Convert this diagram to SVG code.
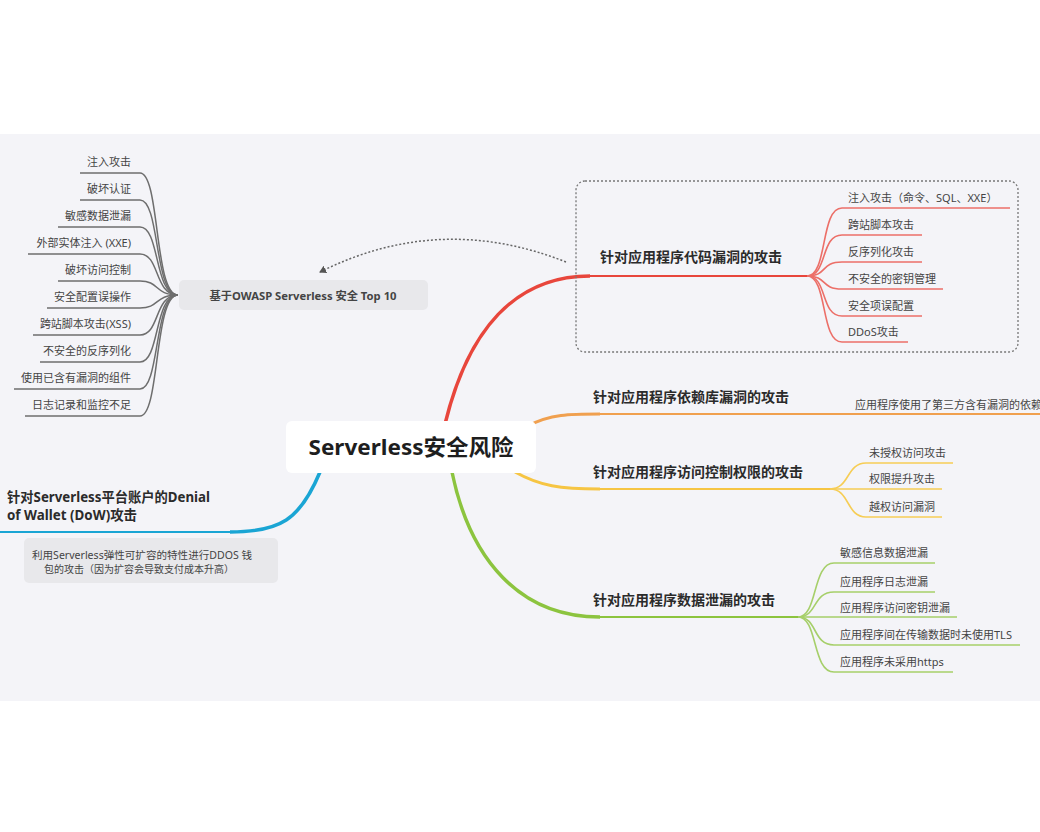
<svg xmlns="http://www.w3.org/2000/svg" width="1040" height="832" viewBox="0 0 1040 832">
<defs>
<style>
.t{font-family:"Noto Sans","Noto Sans CJK SC",sans-serif;}
.main{font-size:22px;font-weight:700;fill:#1e1e1e;}
.br{font-size:14px;font-weight:700;fill:#2b2b2b;}
.lf{font-size:11px;fill:#444;}
.nt{font-size:10px;fill:#444;}
.ow{font-size:11px;font-weight:700;fill:#444;}
.gl{fill:none;stroke:#6e6e6e;stroke-width:1.5;}
.rl{fill:none;stroke:#ec6f68;stroke-width:1.6;}
.yl{fill:none;stroke:#f6cd55;stroke-width:1.6;}
.gnl{fill:none;stroke:#a6cf6a;stroke-width:1.6;}
</style>
<marker id="ah" markerWidth="8" markerHeight="8" refX="6" refY="4" orient="auto" markerUnits="userSpaceOnUse">
<path d="M0,0 L7,4 L0,8 Z" fill="#555"/>
</marker>
</defs>
<rect x="0" y="0" width="1040" height="832" fill="#ffffff"/>
<rect x="0" y="134" width="1040" height="567" fill="#f4f4f8"/>

<g id="connectors">
<path d="M445,424 C468,330 515,276 590,276" fill="none" stroke="#e8463c" stroke-width="3.5"/>
<path d="M588,276 L807,276" fill="none" stroke="#e8463c" stroke-width="2"/>
<path d="M528,426 C550,414 570,414 600,414" fill="none" stroke="#f0a04f" stroke-width="3"/>
<path d="M598,414 L1040,414" fill="none" stroke="#f0a04f" stroke-width="2"/>
<path d="M515,472 C540,486 560,489 600,489" fill="none" stroke="#f6c543" stroke-width="3"/>
<path d="M598,489 L830,489" fill="none" stroke="#f6c543" stroke-width="2"/>
<path d="M452,472 C470,560 520,617 600,617" fill="none" stroke="#8cc43f" stroke-width="3.5"/>
<path d="M598,617 L798,617" fill="none" stroke="#8cc43f" stroke-width="2"/>
<path d="M320,472 C300,520 280,532 230,532" fill="none" stroke="#1aa5d4" stroke-width="3.5"/>
<path d="M232,532 L0,532" fill="none" stroke="#1aa5d4" stroke-width="2"/>
<path class="rl" d="M807,276 C828,276 820,208 842,208 L1010,208"/>
<path class="rl" d="M807,276 C828,276 820,235 842,235 L922,235"/>
<path class="rl" d="M807,276 C828,276 820,262 842,262 L922,262"/>
<path class="rl" d="M807,276 C828,276 820,289 842,289 L943,289"/>
<path class="rl" d="M807,276 C828,276 820,316 842,316 L922,316"/>
<path class="rl" d="M807,276 C828,276 820,342 842,342 L908,342"/>
<path class="yl" d="M830,489 C850,489 846,463 866,463 L953,463"/>
<path class="yl" d="M830,489 L942,489"/>
<path class="yl" d="M830,489 C850,489 846,517 866,517 L942,517"/>
<path class="gnl" d="M798,617 C818,617 812,563 834,563 L935,563"/>
<path class="gnl" d="M798,617 C818,617 812,592 834,592 L935,592"/>
<path class="gnl" d="M798,617 L957,617"/>
<path class="gnl" d="M798,617 C818,617 812,645 834,645 L1020,645"/>
<path class="gnl" d="M798,617 C818,617 812,672 834,672 L953,672"/>
<path class="gl" d="M80,173 L140,173 C160,173 154,295 178,295"/>
<path class="gl" d="M80,200 L140,200 C160,200 154,295 178,295"/>
<path class="gl" d="M58,227 L140,227 C160,227 154,295 178,295"/>
<path class="gl" d="M28,254 L140,254 C160,254 154,295 178,295"/>
<path class="gl" d="M58,281 L140,281 C160,281 154,295 178,295"/>
<path class="gl" d="M47,308 L140,308 C160,308 154,295 178,295"/>
<path class="gl" d="M33,335 L140,335 C160,335 154,295 178,295"/>
<path class="gl" d="M40,362 L140,362 C160,362 154,295 178,295"/>
<path class="gl" d="M14,389 L140,389 C160,389 154,295 178,295"/>
<path class="gl" d="M25,416 L140,416 C160,416 154,295 178,295"/>
<path d="M566,262 Q440,212 320,272" fill="none" stroke="#666" stroke-width="1.5" stroke-dasharray="2,2" marker-end="url(#ah)"/>
</g>

<g id="boundary">
<rect x="576" y="181" width="442" height="171" rx="9" fill="none" stroke="#777" stroke-width="1.3" stroke-dasharray="2,2"/>
</g>

<g id="root">
<rect x="286" y="421" width="250" height="52" rx="6" fill="#ffffff"/>
<text class="t main" x="411" y="455" text-anchor="middle" textLength="205" lengthAdjust="spacingAndGlyphs">Serverless安全风险</text>
</g>

<g id="branch-code">
<text class="t br" x="600" y="262">针对应用程序代码漏洞的攻击</text>
<text class="t lf" x="848" y="202">注入攻击（命令、SQL、XXE）</text>
<text class="t lf" x="848" y="229">跨站脚本攻击</text>
<text class="t lf" x="848" y="256">反序列化攻击</text>
<text class="t lf" x="848" y="283">不安全的密钥管理</text>
<text class="t lf" x="848" y="310">安全项误配置</text>
<text class="t lf" x="848" y="336">DDoS攻击</text>
</g>

<g id="branch-deps">
<text class="t br" x="593" y="402">针对应用程序依赖库漏洞的攻击</text>
<text class="t lf" x="855" y="409">应用程序使用了第三方含有漏洞的依赖</text>
</g>

<g id="branch-access">
<text class="t br" x="593" y="477">针对应用程序访问控制权限的攻击</text>
<text class="t lf" x="869" y="457">未授权访问攻击</text>
<text class="t lf" x="869" y="483">权限提升攻击</text>
<text class="t lf" x="869" y="511">越权访问漏洞</text>
</g>

<g id="branch-data">
<text class="t br" x="593" y="605">针对应用程序数据泄漏的攻击</text>
<text class="t lf" x="840" y="557">敏感信息数据泄漏</text>
<text class="t lf" x="840" y="586">应用程序日志泄漏</text>
<text class="t lf" x="840" y="612">应用程序访问密钥泄漏</text>
<text class="t lf" x="840" y="639">应用程序间在传输数据时未使用TLS</text>
<text class="t lf" x="840" y="666">应用程序未采用https</text>
</g>

<g id="branch-dow">
<text class="t br" x="7" y="502" textLength="203" lengthAdjust="spacingAndGlyphs">针对Serverless平台账户的Denial</text>
<text class="t br" x="7" y="520" textLength="130" lengthAdjust="spacingAndGlyphs">of Wallet (DoW)攻击</text>
<rect x="24" y="538" width="254" height="45" rx="5" fill="#e8e8eb"/>
<text class="t nt" x="142" y="559" text-anchor="middle" textLength="220" lengthAdjust="spacingAndGlyphs">利用Serverless弹性可扩容的特性进行DDOS 钱</text>
<text class="t nt" x="139" y="573" text-anchor="middle">包的攻击（因为扩容会导致支付成本升高）</text>
</g>

<g id="owasp">
<rect x="179" y="280" width="249" height="30" rx="5" fill="#e8e8eb"/>
<text class="t ow" x="303" y="300" text-anchor="middle" textLength="187" lengthAdjust="spacingAndGlyphs">基于OWASP Serverless 安全 Top 10</text>
<text class="t lf" x="131" y="166" text-anchor="end">注入攻击</text>
<text class="t lf" x="131" y="193" text-anchor="end">破坏认证</text>
<text class="t lf" x="131" y="220" text-anchor="end">敏感数据泄漏</text>
<text class="t lf" x="131" y="247" text-anchor="end">外部实体注入 (XXE)</text>
<text class="t lf" x="131" y="274" text-anchor="end">破坏访问控制</text>
<text class="t lf" x="131" y="301" text-anchor="end">安全配置误操作</text>
<text class="t lf" x="131" y="328" text-anchor="end">跨站脚本攻击(XSS)</text>
<text class="t lf" x="131" y="355" text-anchor="end">不安全的反序列化</text>
<text class="t lf" x="131" y="382" text-anchor="end">使用已含有漏洞的组件</text>
<text class="t lf" x="131" y="409" text-anchor="end">日志记录和监控不足</text>
</g>
</svg>
